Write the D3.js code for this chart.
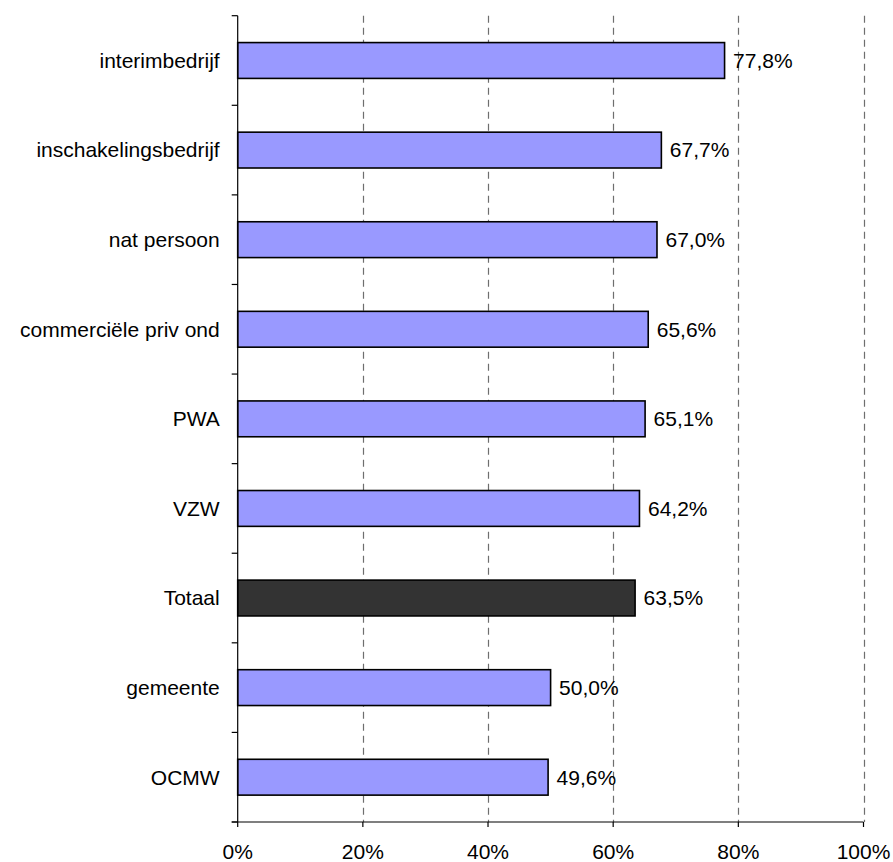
<!DOCTYPE html>
<html>
<head>
<meta charset="utf-8">
<script src="https://cdn.jsdelivr.net/npm/d3@7"></script>
<style>
  html, body { margin: 0; padding: 0; background: #fff; }
  svg text { font-family: "Liberation Sans", Arial, sans-serif; fill: #000; }
</style>
</head>
<body>
<svg id="chart" width="893" height="862"></svg>
<script>
// Share per organisation type (top to bottom)
const categories = ["interimbedrijf", "inschakelingsbedrijf", "nat persoon", "commerciële priv ond", "PWA", "VZW", "Totaal", "gemeente", "OCMW"];
const values = [0.778, 0.677, 0.670, 0.656, 0.651, 0.642, 0.635, 0.500, 0.496];
const xTicks = [0, 0.2, 0.4, 0.6, 0.8, 1.0];
const highlight = "Totaal";

const svg = d3.select("#chart");
const plotLeft = 237.7, plotRight = 863.5, plotTop = 15.7, plotBottom = 822;

const x = d3.scaleLinear().domain([0, 1]).range([plotLeft, plotRight]);
const y = d3.scaleBand().domain(categories).range([plotTop, plotBottom])
  .paddingInner(0.6).paddingOuter(0.3);

const pct = d => d3.format(".1f")(d * 100).replace(".", ",") + "%";
const fontSize = 21;

// dashed vertical gridlines
svg.append("g").selectAll("line")
  .data(xTicks.filter(t => t > 0))
  .join("line")
  .attr("x1", d => Math.round(x(d)) + 0.5).attr("x2", d => Math.round(x(d)) + 0.5)
  .attr("y1", plotTop).attr("y2", plotBottom)
  .attr("stroke", "#6e6e6e").attr("stroke-width", 1.2)
  .attr("stroke-dasharray", "7,5");

// bars
svg.append("g").selectAll("rect")
  .data(categories)
  .join("rect")
  .attr("x", x(0))
  .attr("y", d => y(d))
  .attr("width", (d, i) => x(values[i]) - x(0))
  .attr("height", y.bandwidth())
  .attr("fill", d => d === highlight ? "#333333" : "#9999FF")
  .attr("stroke", "#000").attr("stroke-width", 1.6);

// value labels
svg.append("g").selectAll("text")
  .data(categories)
  .join("text")
  .attr("x", (d, i) => x(values[i]) + 8.5)
  .attr("y", d => y(d) + y.bandwidth() / 2)
  .attr("dy", "0.35em")
  .attr("font-size", fontSize)
  .text((d, i) => pct(values[i]));

// vertical axis with ticks at category boundaries
const yAxis = svg.append("g");
yAxis.append("line")
  .attr("x1", plotLeft).attr("x2", plotLeft).attr("y1", plotTop).attr("y2", plotBottom)
  .attr("stroke", "#000").attr("stroke-width", 1.2);
yAxis.selectAll("line.tick")
  .data(d3.range(categories.length + 1))
  .join("line").attr("class", "tick")
  .attr("x1", plotLeft - 6).attr("x2", plotLeft)
  .attr("y1", i => plotTop + i * y.step()).attr("y2", i => plotTop + i * y.step())
  .attr("stroke", "#000").attr("stroke-width", 1.2);
yAxis.selectAll("text")
  .data(categories)
  .join("text")
  .attr("x", plotLeft - 18)
  .attr("y", d => y(d) + y.bandwidth() / 2)
  .attr("dy", "0.35em")
  .attr("text-anchor", "end")
  .attr("font-size", fontSize)
  .text(d => d);

// horizontal axis
const xAxis = svg.append("g");
xAxis.append("line")
  .attr("x1", plotLeft - 6).attr("x2", plotRight).attr("y1", plotBottom).attr("y2", plotBottom)
  .attr("stroke", "#000").attr("stroke-width", 1.2);
xAxis.selectAll("line.tick")
  .data(xTicks)
  .join("line").attr("class", "tick")
  .attr("x1", d => x(d)).attr("x2", d => x(d))
  .attr("y1", plotBottom).attr("y2", plotBottom + 5)
  .attr("stroke", "#000").attr("stroke-width", 1.2);
xAxis.selectAll("text")
  .data(xTicks)
  .join("text")
  .attr("x", d => x(d))
  .attr("y", plotBottom + 37)
  .attr("text-anchor", "middle")
  .attr("font-size", fontSize)
  .text(d => Math.round(d * 100) + "%");
</script>
</body>
</html>
